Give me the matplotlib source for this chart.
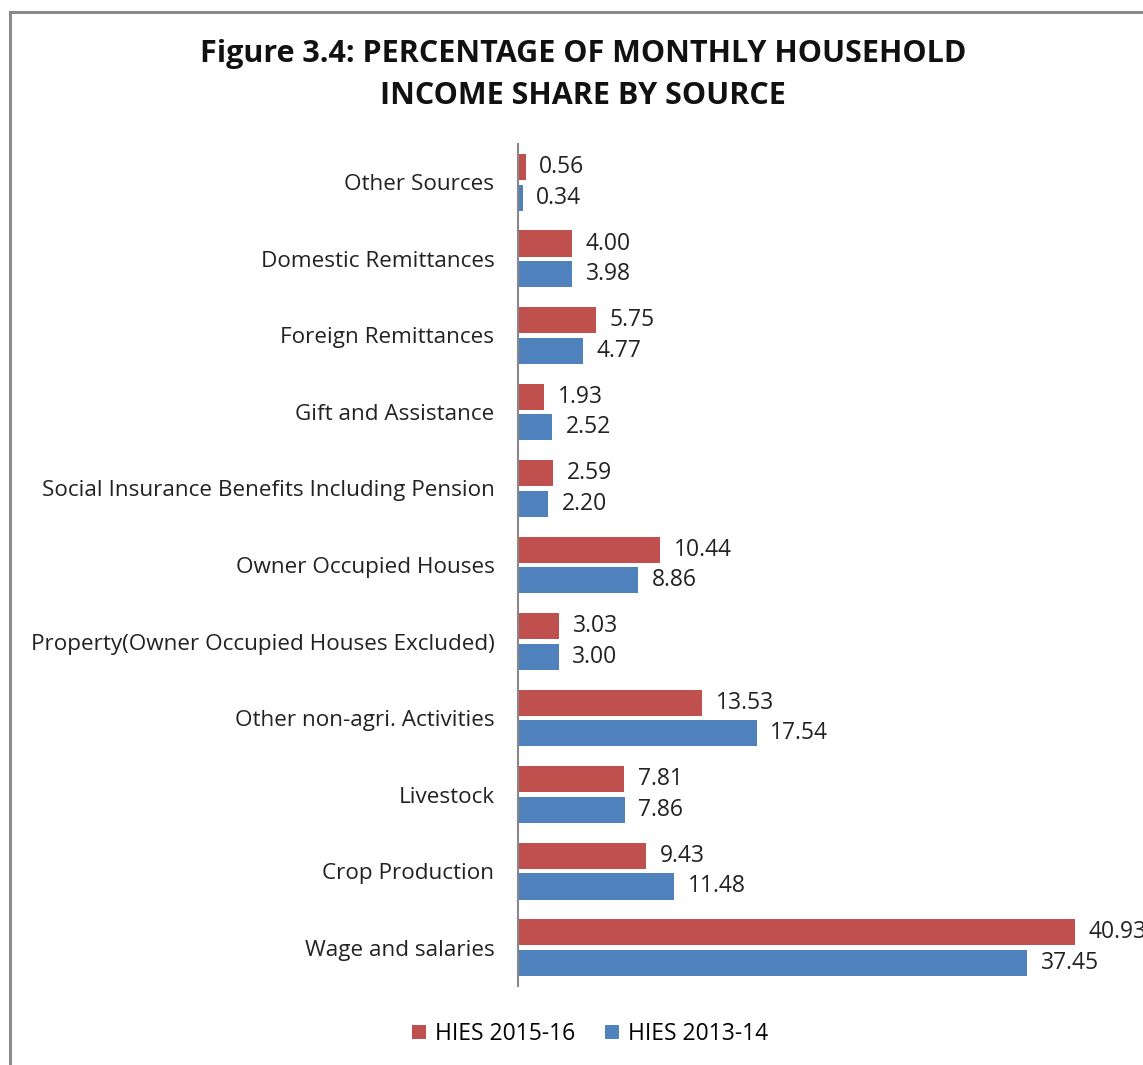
import matplotlib
matplotlib.use("Agg")
import matplotlib.pyplot as plt
from matplotlib.lines import Line2D
from matplotlib.patches import Patch
import numpy as np

categories = [
    "Other Sources",
    "Domestic Remittances",
    "Foreign Remittances",
    "Gift and Assistance",
    "Social Insurance Benefits Including Pension",
    "Owner Occupied Houses",
    "Property(Owner Occupied Houses Excluded)",
    "Other non-agri. Activities",
    "Livestock",
    "Crop Production",
    "Wage and salaries",
]
hies_2015_16 = [0.56, 4.00, 5.75, 1.93, 2.59, 10.44, 3.03, 13.53, 7.81, 9.43, 40.93]
hies_2013_14 = [0.34, 3.98, 4.77, 2.52, 2.20, 8.86, 3.00, 17.54, 7.86, 11.48, 37.45]
series_names = ["HIES 2015-16", "HIES 2013-14"]

RED = "#C0504D"
BLUE = "#4F81BD"
FONT = ["Open Sans", "DejaVu Sans"]

W, H = 1143, 1065
fig = plt.figure(figsize=(W / 100, H / 100), dpi=100)
plt.rcParams["font.family"] = FONT

ax_left, ax_right = 518 / W, 1130 / W
ax_top, ax_bottom = 1 - 144 / H, 1 - 986 / H
ax = fig.add_axes([ax_left, ax_bottom, ax_right - ax_left, ax_top - ax_bottom])

y = np.arange(len(categories))
h = 0.34
off = 0.2
ax.barh(y - off, hies_2015_16, height=h, color=RED, label=series_names[0])
ax.barh(y + off, hies_2013_14, height=h, color=BLUE, label=series_names[1])

for yi, v in zip(y, hies_2015_16):
    ax.text(v + 1.0, yi - off, f"{v:.2f}", va="center", ha="left", fontsize=16.5, color="#222222", clip_on=False)
for yi, v in zip(y, hies_2013_14):
    ax.text(v + 1.0, yi + off, f"{v:.2f}", va="center", ha="left", fontsize=16.5, color="#222222", clip_on=False)

ax.set_ylim(len(categories) - 0.5, -0.5)
ax.set_xlim(0, 45)
ax.set_yticks(y)
ax.set_yticklabels(categories, fontsize=16.2, color="#222222")
ax.tick_params(axis="y", length=0, pad=17)
ax.set_xticks([])
for s in ["top", "right", "bottom"]:
    ax.spines[s].set_visible(False)
ax.spines["left"].set_color("#888888")
ax.spines["left"].set_linewidth(1.5)

fig.text(583 / W, 1 - 54 / H, "Figure 3.4: PERCENTAGE OF MONTHLY HOUSEHOLD",
         ha="center", va="center", fontsize=22, fontweight="bold", color="#111111")
fig.text(583 / W, 1 - 96 / H, "INCOME SHARE BY SOURCE",
         ha="center", va="center", fontsize=22, fontweight="bold", color="#111111")

handles = [Patch(facecolor=RED), Patch(facecolor=BLUE)]
fig.legend(handles, series_names, loc="center", bbox_to_anchor=(590 / W, 1 - 1034 / H),
           ncol=2, frameon=False, fontsize=16.5, handlelength=0.6, handleheight=0.6,
           handletextpad=0.4, columnspacing=1.3)

# outer frame (left and top edges visible)
fig.add_artist(Line2D([10 / W, 10 / W], [1 - 12 / H, 0], transform=fig.transFigure, color="#8a8a8a", lw=2.2))
fig.add_artist(Line2D([10 / W, 1], [1 - 12 / H, 1 - 12 / H], transform=fig.transFigure, color="#8a8a8a", lw=2.2))

fig.savefig("out.png", dpi=100)
